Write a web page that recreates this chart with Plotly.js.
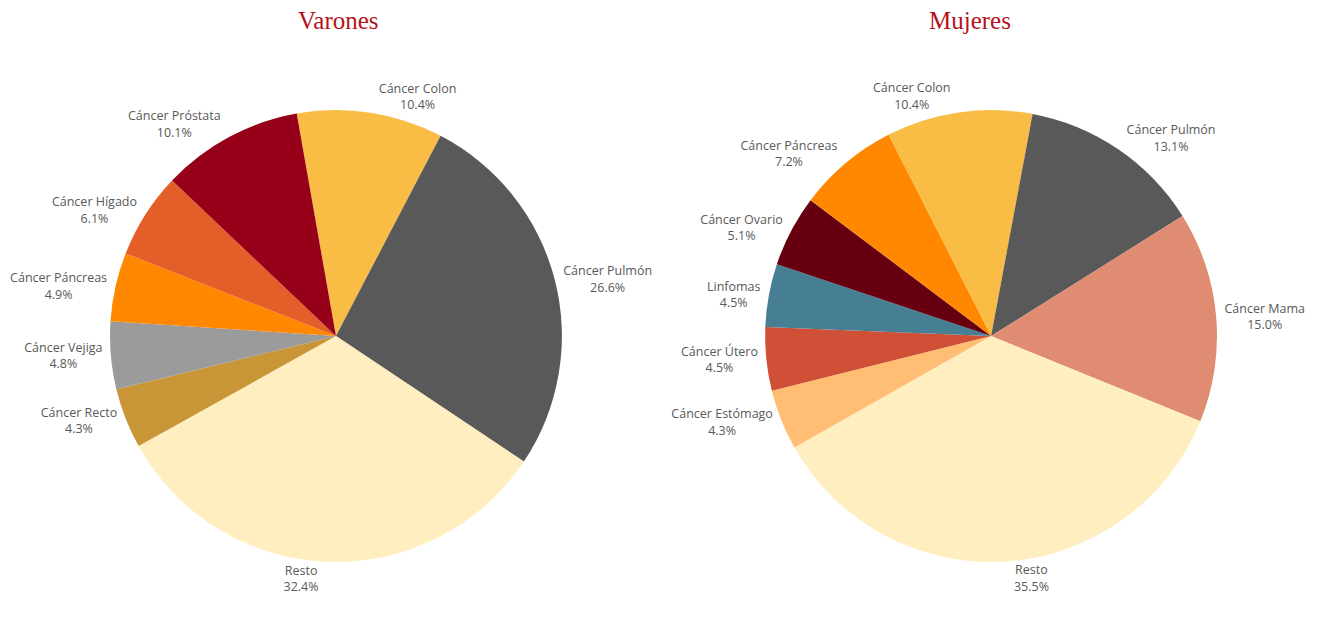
<!DOCTYPE html>
<html>
<head>
<meta charset="utf-8">
<script src="https://cdn.plot.ly/plotly-3.0.1.min.js"></script>
<style>
  body { margin: 0; background: #fff; }
  #chart { width: 1331px; height: 622px; }
</style>
</head>
<body>
<div id="chart"></div>
<script>
// Varones
const menLabels = ['Cáncer Colon', 'Cáncer Pulmón', 'Resto', 'Cáncer Recto', 'Cáncer Vejiga',
    'Cáncer Páncreas', 'Cáncer Hígado', 'Cáncer Próstata'];
const menValues = [10.4, 26.6, 32.4, 4.3, 4.8, 4.9, 6.1, 10.1];
const menColors = ['#F9BC45', '#595959', '#FFEEBF', '#C89537', '#9B9B9B', '#FF8800', '#E35E29', '#960018'];

// Mujeres
const womenLabels = ['Cáncer Colon', 'Cáncer Pulmón', 'Cáncer Mama', 'Resto', 'Cáncer Estómago',
    'Cáncer Útero', 'Linfomas', 'Cáncer Ovario', 'Cáncer Páncreas'];
const womenValues = [10.4, 13.1, 15.0, 35.5, 4.3, 4.5, 4.5, 5.1, 7.2];
const womenColors = ['#F9BC45', '#595959', '#DF8C73', '#FFEEBF', '#FFBE73', '#CF5036', '#467E94', '#660010', '#FF8800'];

function pieTrace(labels, values, colors, xDomain, rotation) {
    return {
        type: 'pie',
        labels: labels,
        values: values,
        sort: false,
        direction: 'clockwise',
        rotation: rotation,
        marker: { colors: colors, line: { width: 0 } },
        textposition: 'outside',
        texttemplate: '%{label}<br>%{value:.1f}%',
        textfont: { family: 'Open Sans, sans-serif', size: 12.5, color: '#595959' },
        hoverinfo: 'label+value',
        domain: { x: xDomain, y: [0.0965, 0.823] },
        showlegend: false,
    };
}

const data = [
    pieTrace(menLabels, menValues, menColors, [0.0826, 0.4222], -10),
    pieTrace(womenLabels, womenValues, womenColors, [0.5748, 0.9144], -27),
];

const titleFont = { family: 'Liberation Serif, DejaVu Serif, serif', size: 25, color: '#B5121B' };

const layout = {
    width: 1331,
    height: 622,
    margin: { l: 0, r: 0, t: 0, b: 0 },
    paper_bgcolor: '#ffffff',
    showlegend: false,
    annotations: [
        { text: 'Varones', x: 338 / 1331, y: 1 - 20 / 622, xref: 'paper', yref: 'paper',
          xanchor: 'center', yanchor: 'middle', showarrow: false, font: titleFont },
        { text: 'Mujeres', x: 970 / 1331, y: 1 - 20 / 622, xref: 'paper', yref: 'paper',
          xanchor: 'center', yanchor: 'middle', showarrow: false, font: titleFont },
    ],
};

Plotly.newPlot('chart', data, layout, { displayModeBar: false });
</script>
</body>
</html>
